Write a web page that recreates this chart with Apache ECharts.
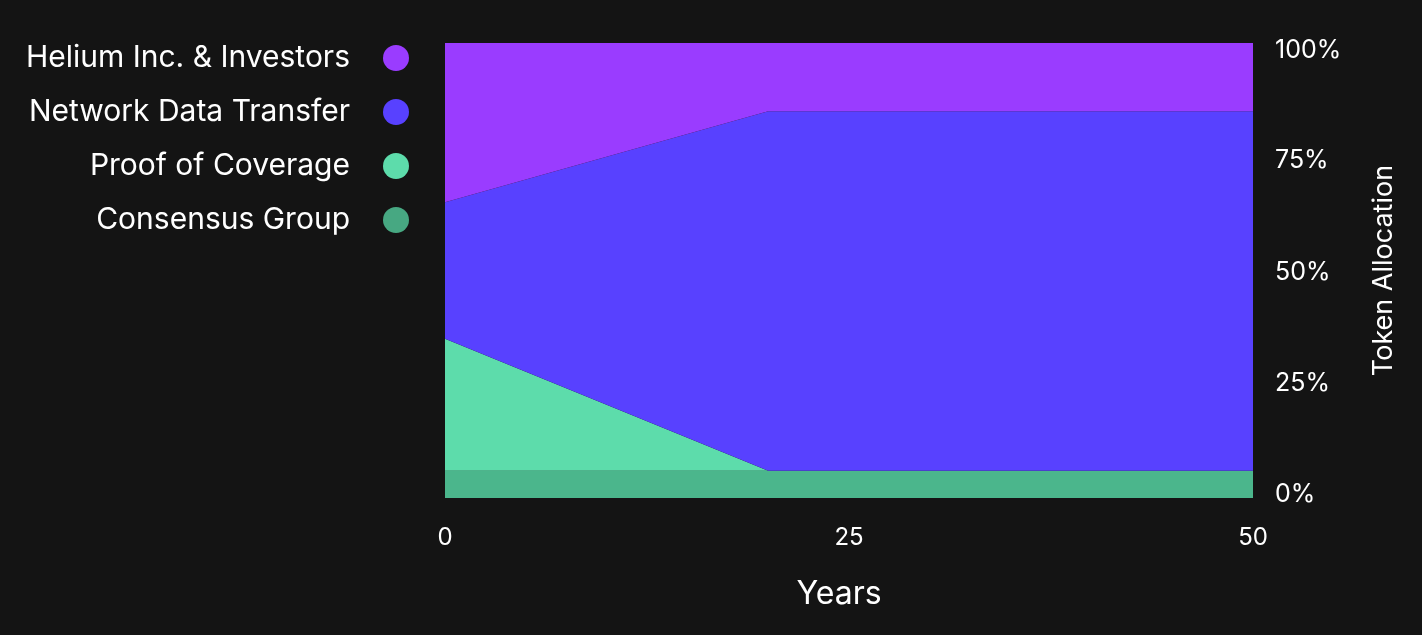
<!DOCTYPE html>
<html>
<head>
<meta charset="utf-8">
<script src="https://cdn.jsdelivr.net/npm/echarts@6/dist/echarts.min.js"></script>
<style>
html,body{margin:0;padding:0;background:#141414;}
#c{width:1422px;height:635px;}
</style>
</head>
<body>
<div id="c"></div>
<script>
const years = [0, 20, 50];
const consensusGroup = [6, 6, 6];
const proofOfCoverage = [29, 0, 0];
const networkDataTransfer = [30, 79, 79];
const heliumInvestors = [35, 15, 15];
const seriesNames = ['Helium Inc. & Investors', 'Network Data Transfer', 'Proof of Coverage', 'Consensus Group'];
const xTicks = [0, 25, 50];
const yTicks = [0, 25, 50, 75, 100];

const colors = {
  'Helium Inc. & Investors': '#9a3cff',
  'Network Data Transfer': '#5841ff',
  'Proof of Coverage': '#5ddcab',
  'Consensus Group': '#4bb68c'
};
const legendColors = {
  'Helium Inc. & Investors': '#9a3cff',
  'Network Data Transfer': '#5841ff',
  'Proof of Coverage': '#5ddcab',
  'Consensus Group': '#47a882'
};
const FONT = 'Inter';

function mk(name, vals) {
  return {
    name: name,
    type: 'line',
    stack: 'total',
    dimensions: ['value', 'year'],
    encode: { x: 'year', y: 'value' },
    data: years.map((y, i) => [vals[i], y]),
    showSymbol: false,
    symbol: 'none',
    lineStyle: { width: 0 },
    areaStyle: { color: colors[name], opacity: 1 },
    itemStyle: { color: legendColors[name] },
    emphasis: { disabled: true },
    animation: false
  };
}

// small per-label vertical nudges (style only)
const yRich = {};
yTicks.forEach(v => {
  const off = Math.round(-4 + 0.11 * v);
  yRich['t' + v] = {
    color: '#ffffff', fontSize: 25, fontFamily: FONT,
    padding: off >= 0 ? [2 * off, 0, 0, 0] : [0, 0, -2 * off, 0]
  };
});

const chart = echarts.init(document.getElementById('c'));
chart.setOption({
  backgroundColor: '#141414',
  animation: false,
  grid: { left: 445, right: 169, top: 43, bottom: 137 },
  legend: {
    data: seriesNames,
    orient: 'vertical',
    align: 'right',
    right: 1013,
    top: 43,
    padding: 0,
    icon: 'circle',
    itemWidth: 26,
    itemHeight: 26,
    itemGap: 24,
    selectedMode: false,
    textStyle: { color: '#ffffff', fontSize: 30, fontFamily: FONT, lineHeight: 26, padding: [0, 28, 0, 0] }
  },
  xAxis: {
    type: 'value',
    min: 0, max: 50, interval: 25,
    name: 'Years',
    nameLocation: 'middle',
    nameGap: 80,
    nameTextStyle: { color: '#ffffff', fontSize: 32, fontFamily: FONT, padding: [0, 20, 0, 0] },
    axisLine: { show: false },
    axisTick: { show: false },
    splitLine: { show: false },
    axisLabel: { color: '#ffffff', fontSize: 24, fontFamily: FONT, margin: 28,
      formatter: v => xTicks.includes(v) ? String(v) : '' }
  },
  yAxis: {
    type: 'value',
    position: 'right',
    min: 0, max: 100, interval: 25,
    name: 'Token Allocation',
    nameLocation: 'middle',
    nameRotate: 90,
    nameGap: 117,
    nameTextStyle: { color: '#ffffff', fontSize: 27, fontFamily: FONT },
    axisLine: { show: false },
    axisTick: { show: false },
    splitLine: { show: false },
    axisLabel: { margin: 22, rich: yRich,
      formatter: v => yTicks.includes(v) ? '{t' + v + '|' + v + '%}' : '' }
  },
  series: [
    mk('Consensus Group', consensusGroup),
    mk('Proof of Coverage', proofOfCoverage),
    mk('Network Data Transfer', networkDataTransfer),
    mk('Helium Inc. & Investors', heliumInvestors)
  ]
});
</script>
</body>
</html>
